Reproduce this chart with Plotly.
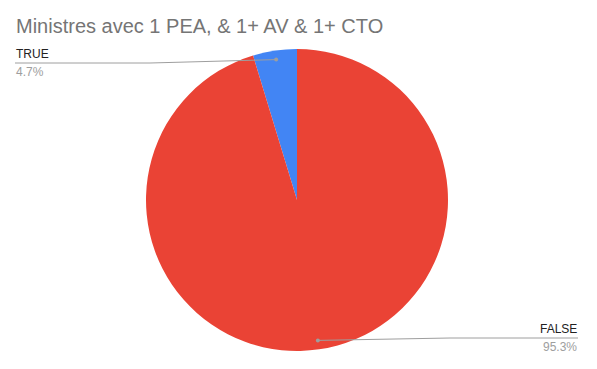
import math
import plotly.graph_objects as go

# ---- data ----
labels = ["TRUE", "FALSE"]
values = [4.7, 95.3]
pct_text = ["4.7%", "95.3%"]
colors = ["#4285F4", "#EA4335"]
title = "Ministres avec 1 PEA, & 1+ AV & 1+ CTO"

W, H = 597, 369
CX, CY, R = 297, 200, 151  # pie centre / radius in pixels


def px(x):
    return x / W


def py(y):
    return 1 - y / H


total = sum(values)
# first slice drawn to the left of 12 o'clock (Google Sheets style)
start_rot = -values[0] / total * 360

fig = go.Figure(go.Pie(
    labels=labels, values=values, sort=False, direction="clockwise",
    rotation=start_rot, marker=dict(colors=colors, line=dict(width=0)),
    textinfo="none", hoverinfo="label+percent",
    domain=dict(x=[px(CX - R), px(CX + R)], y=[py(CY + R), py(CY - R)]),
    showlegend=False,
))

# leader-line anchor points computed from the data (slice mid angles, ccw from top)
cum = 0
dots = []
for v in values:
    mid = (cum + v / 2) / total * 2 * math.pi
    cum += v
    r = 0.94 * R
    dots.append((CX - r * math.sin(mid), CY - r * math.cos(mid)))

shapes = []
annotations = []
line_col = "#9e9e9e"
# label layout: (elbow x, line y, end x, anchor)
label_layout = [(150, 63, 15, "left"), (450, 338, 578, "right")]
for (dx, dy), (ex, ly, endx, anch), lab, pt in zip(dots, label_layout, labels, pct_text):
    shapes.append(dict(type="path", xref="paper", yref="paper",
                       path=f"M {px(dx)},{py(dy)} L {px(ex)},{py(ly)} L {px(endx)},{py(ly)}",
                       line=dict(color=line_col, width=1)))
    shapes.append(dict(type="circle", xref="paper", yref="paper",
                       x0=px(dx - 2), x1=px(dx + 2), y0=py(dy + 2), y1=py(dy - 2),
                       fillcolor=line_col, line=dict(width=0)))
    annotations.append(dict(text=lab, x=px(endx), y=py(ly - 1), xref="paper", yref="paper",
                            xanchor=anch, yanchor="bottom", showarrow=False,
                            font=dict(size=12, color="#222222", family="Liberation Sans, Arial"),
                            borderpad=0))
    annotations.append(dict(text=pt, x=px(endx), y=py(ly + 1), xref="paper", yref="paper",
                            xanchor=anch, yanchor="top", showarrow=False,
                            font=dict(size=12, color="#9e9e9e", family="Liberation Sans, Arial"),
                            borderpad=0))

annotations.append(dict(text=title, x=px(14), y=py(26), xref="paper", yref="paper",
                        xanchor="left", yanchor="middle", showarrow=False,
                        font=dict(size=20, color="#757575", family="Liberation Sans, Arial")))

fig.update_layout(width=W, height=H, margin=dict(l=0, r=0, t=0, b=0),
                  paper_bgcolor="white", plot_bgcolor="white",
                  shapes=shapes, annotations=annotations)

fig.write_html("out.html")
